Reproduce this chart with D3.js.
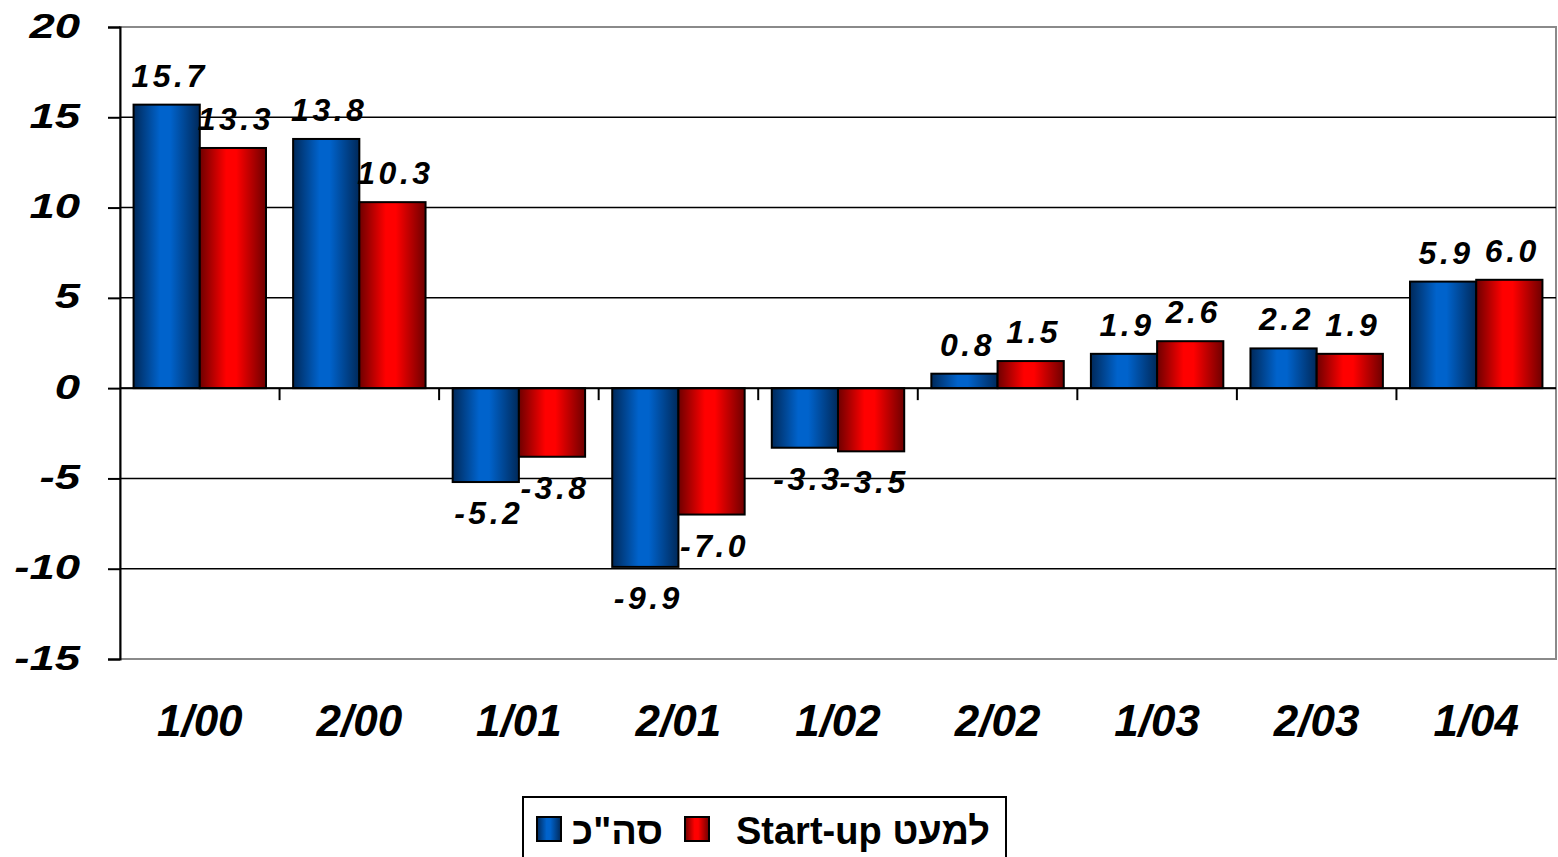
<!DOCTYPE html>
<html>
<head>
<meta charset="utf-8">
<script src="https://cdn.jsdelivr.net/npm/d3@7"></script>
<style>
  body { margin: 0; background: #fff; }
  svg { display: block; font-family: Arial, "Liberation Sans", sans-serif; }
</style>
</head>
<body>
<script>
// data
var periods = ["1/00", "2/00", "1/01", "2/01", "1/02", "2/02", "1/03", "2/03", "1/04"];
var totalVals = [15.7, 13.8, -5.2, -9.9, -3.3, 0.8, 1.9, 2.2, 5.9];
var exStartup = [13.3, 10.3, -3.8, -7.0, -3.5, 1.5, 2.6, 1.9, 6.0];
var seriesNames = ['סה"כ', "למעט Start-up"];
var yTicks = [20, 15, 10, 5, 0, -5, -10, -15];

var width = 1558, height = 857;
var pLeft = 120, pRight = 1556, pTop = 27, pBottom = 659;

var svg = d3.select("body").append("svg")
  .attr("width", width)
  .attr("height", height);

// gradients for the bars
var defs = svg.append("defs");
function grad(id, dark, light) {
  var g = defs.append("linearGradient").attr("id", id)
    .attr("x1", "0%").attr("x2", "100%").attr("y1", "0%").attr("y2", "0%");
  g.append("stop").attr("offset", "0%").attr("stop-color", dark);
  g.append("stop").attr("offset", "40%").attr("stop-color", light);
  g.append("stop").attr("offset", "55%").attr("stop-color", light);
  g.append("stop").attr("offset", "100%").attr("stop-color", dark);
}
grad("gBlue", "#00295a", "#0063cc");
grad("gRed", "#6e0000", "#ff0000");

var x = d3.scaleBand().domain(periods).range([pLeft, pRight]).paddingInner(0.17).paddingOuter(0.085);
var x1 = d3.scaleBand().domain([0, 1]).range([0, x.bandwidth()]);
var y = d3.scaleLinear().domain([-15, 20]).range([pBottom, pTop]);

// frame (gray) and gridlines
svg.append("rect")
  .attr("x", pLeft).attr("y", pTop)
  .attr("width", pRight - pLeft).attr("height", pBottom - pTop)
  .attr("fill", "none").attr("stroke", "#8a8a8a").attr("stroke-width", 2);

svg.append("g").selectAll("line")
  .data(yTicks.filter(function(d) { return d != 20 && d != -15; }))
  .enter().append("line")
  .attr("x1", pLeft).attr("x2", pRight)
  .attr("y1", function(d) { return y(d); })
  .attr("y2", function(d) { return y(d); })
  .attr("stroke", "#000").attr("stroke-width", 1.5);

// y axis (labels drawn separately, they are stretched wide)
var yAxis = d3.axisLeft(y).tickValues(yTicks).tickSize(12).tickFormat("");
var ya = svg.append("g")
  .attr("transform", "translate(" + pLeft + ",0)")
  .call(yAxis);
ya.select(".domain").attr("stroke", "#000").attr("stroke-width", 2);
ya.selectAll(".tick line").attr("stroke", "#000").attr("stroke-width", 2);

svg.append("g").selectAll("text")
  .data(yTicks)
  .enter().append("text")
  .attr("transform", function(d) { return "translate(80," + y(d) + ") scale(1.3,1)"; })
  .attr("dy", "0.3em")
  .attr("text-anchor", "end")
  .style("font-size", "35px").style("font-weight", "bold").style("font-style", "italic")
  .text(function(d) { return String(d); });

// bars
var groups = svg.append("g").selectAll("g")
  .data(periods)
  .enter().append("g")
  .attr("transform", function(d) { return "translate(" + x(d) + ",0)"; });

var fills = ["url(#gBlue)", "url(#gRed)"];
groups.selectAll("rect")
  .data(function(d, i) { return [totalVals[i], exStartup[i]]; })
  .enter().append("rect")
  .attr("x", function(d, j) { return x1(j); })
  .attr("y", function(d) { return y(Math.max(0, d)); })
  .attr("width", x1.bandwidth())
  .attr("height", function(d) { return Math.abs(y(d) - y(0)); })
  .attr("fill", function(d, j) { return fills[j]; })
  .attr("stroke", "#000").attr("stroke-width", 2);

// value labels
groups.selectAll("text")
  .data(function(d, i) { return [totalVals[i], exStartup[i]]; })
  .enter().append("text")
  .attr("x", function(d, j) { return x1(j) + x1.bandwidth() / 2 + 3; })
  .attr("y", function(d) { return d >= 0 ? y(d) - 18 : y(d) + 42; })
  .attr("text-anchor", "middle")
  .style("font-size", "32px").style("font-weight", "bold").style("font-style", "italic")
  .style("letter-spacing", "3.5px")
  .text(function(d) { return d.toFixed(1); });

// x axis at zero
svg.append("line")
  .attr("x1", pLeft).attr("x2", pRight)
  .attr("y1", y(0)).attr("y2", y(0))
  .attr("stroke", "#000").attr("stroke-width", 2);

svg.append("g").selectAll("line")
  .data(periods.slice(1))
  .enter().append("line")
  .attr("x1", function(d) { return x(d) - x.step() * x.paddingInner() / 2; })
  .attr("x2", function(d) { return x(d) - x.step() * x.paddingInner() / 2; })
  .attr("y1", y(0)).attr("y2", y(0) + 12)
  .attr("stroke", "#000").attr("stroke-width", 2);

svg.append("g").selectAll("text")
  .data(periods)
  .enter().append("text")
  .attr("x", function(d) { return x(d) + x.bandwidth() / 2; })
  .attr("y", 736)
  .attr("text-anchor", "middle")
  .style("font-size", "44px").style("font-weight", "bold").style("font-style", "italic")
  .text(function(d) { return d; });

// legend
var legend = svg.append("g").attr("class", "legend");
legend.append("rect")
  .attr("x", 523).attr("y", 797)
  .attr("width", 483).attr("height", 70)
  .attr("fill", "#fff").attr("stroke", "#000").attr("stroke-width", 2);

var legItems = [
  { sw: 537, tx: 663, fill: fills[0], name: seriesNames[0] },
  { sw: 685, tx: 990, fill: fills[1], name: seriesNames[1] }
];
legItems.forEach(function(it) {
  legend.append("rect")
    .attr("x", it.sw).attr("y", 817)
    .attr("width", 24).attr("height", 24)
    .attr("fill", it.fill).attr("stroke", "#000").attr("stroke-width", 2);
  legend.append("text")
    .attr("x", it.tx).attr("y", 844)
    .attr("direction", "rtl")
    .attr("text-anchor", "start")
    .style("font-size", "38px").style("font-weight", "bold")
    .text(it.name);
});
</script>
</body>
</html>
